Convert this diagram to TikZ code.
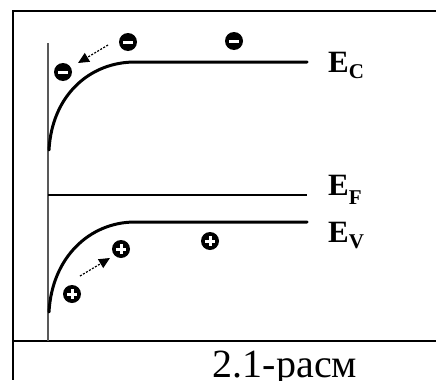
\documentclass[tikz,border=0pt]{standalone}
\usepackage{fontspec}
\setmainfont{Liberation Serif}
\usetikzlibrary{arrows.meta}

\begin{document}
\begin{tikzpicture}[
  x=1pt, y=-1pt,
  band/.style={line width=3pt, line cap=round},
  frame/.style={line width=2.4pt},
  electron/.style={circle, fill=black, minimum size=18pt, inner sep=0pt,
    path picture={\fill[white] ([xshift=-5pt,yshift=-1.5pt]path picture bounding box.center) rectangle ++(10pt,3pt);}},
  hole/.style={circle, fill=black, minimum size=18pt, inner sep=0pt,
    path picture={\draw[white, line width=3pt] ([xshift=-5pt]path picture bounding box.center) -- ++(10pt,0pt);
                  \draw[white, line width=3pt] ([yshift=-5pt]path picture bounding box.center) -- ++(0pt,10pt);}},
  level/.style={anchor=base west, inner sep=0pt, font=\fontsize{31}{31}\selectfont\bfseries},
  arrow/.style={-{Triangle[length=11pt,width=10pt]}, dashed, dash pattern=on 2pt off 1.5pt, line width=1.2pt}
]
\useasboundingbox (0,0) rectangle (436,380);
\fill[white] (0,0) rectangle (436,380);

% table frame
\draw[frame] (436,11) -- (13,11) -- (13,380);
\draw[frame] (13,341) -- (436,341);

% axis and levels
\draw[gray!70!black, line width=1.6pt] (48,43) -- (48,341);
\draw[band] (49,150) .. controls (52,95) and (90,62) .. (135,62) -- (307,62);
\draw[line width=1.5pt] (48,195) -- (307,195);
\draw[band] (49,312) .. controls (52,257) and (90,222) .. (135,222) -- (307,222);

\node[level] (ec) at (328,72) {E\raisebox{-6pt}{\fontsize{21}{21}\selectfont C}};
\node[level] (ef) at (328,195) {E\raisebox{-9pt}{\fontsize{21}{21}\selectfont F}};
\node[level] (ev) at (328,242) {E\raisebox{-6pt}{\fontsize{21}{21}\selectfont V}};

% electrons
\node[electron] (e1) at (63,72) {};
\node[electron] (e2) at (128,42) {};
\node[electron] (e3) at (234,41) {};
\coordinate (ea) at (108,45);
\coordinate (eb) at (78,63);
\draw[arrow] (ea) -- (eb);

% holes
\node[hole] (h1) at (72,294) {};
\node[hole] (h2) at (121,249) {};
\node[hole] (h3) at (210,241) {};
\coordinate (ha) at (80,276);
\coordinate (hb) at (110,258);
\draw[arrow] (ha) -- (hb);

\node[anchor=base, inner sep=0pt, font=\fontsize{40}{40}\selectfont] (caption) at (285,377) {2.1-расм};
\end{tikzpicture}
\end{document}
